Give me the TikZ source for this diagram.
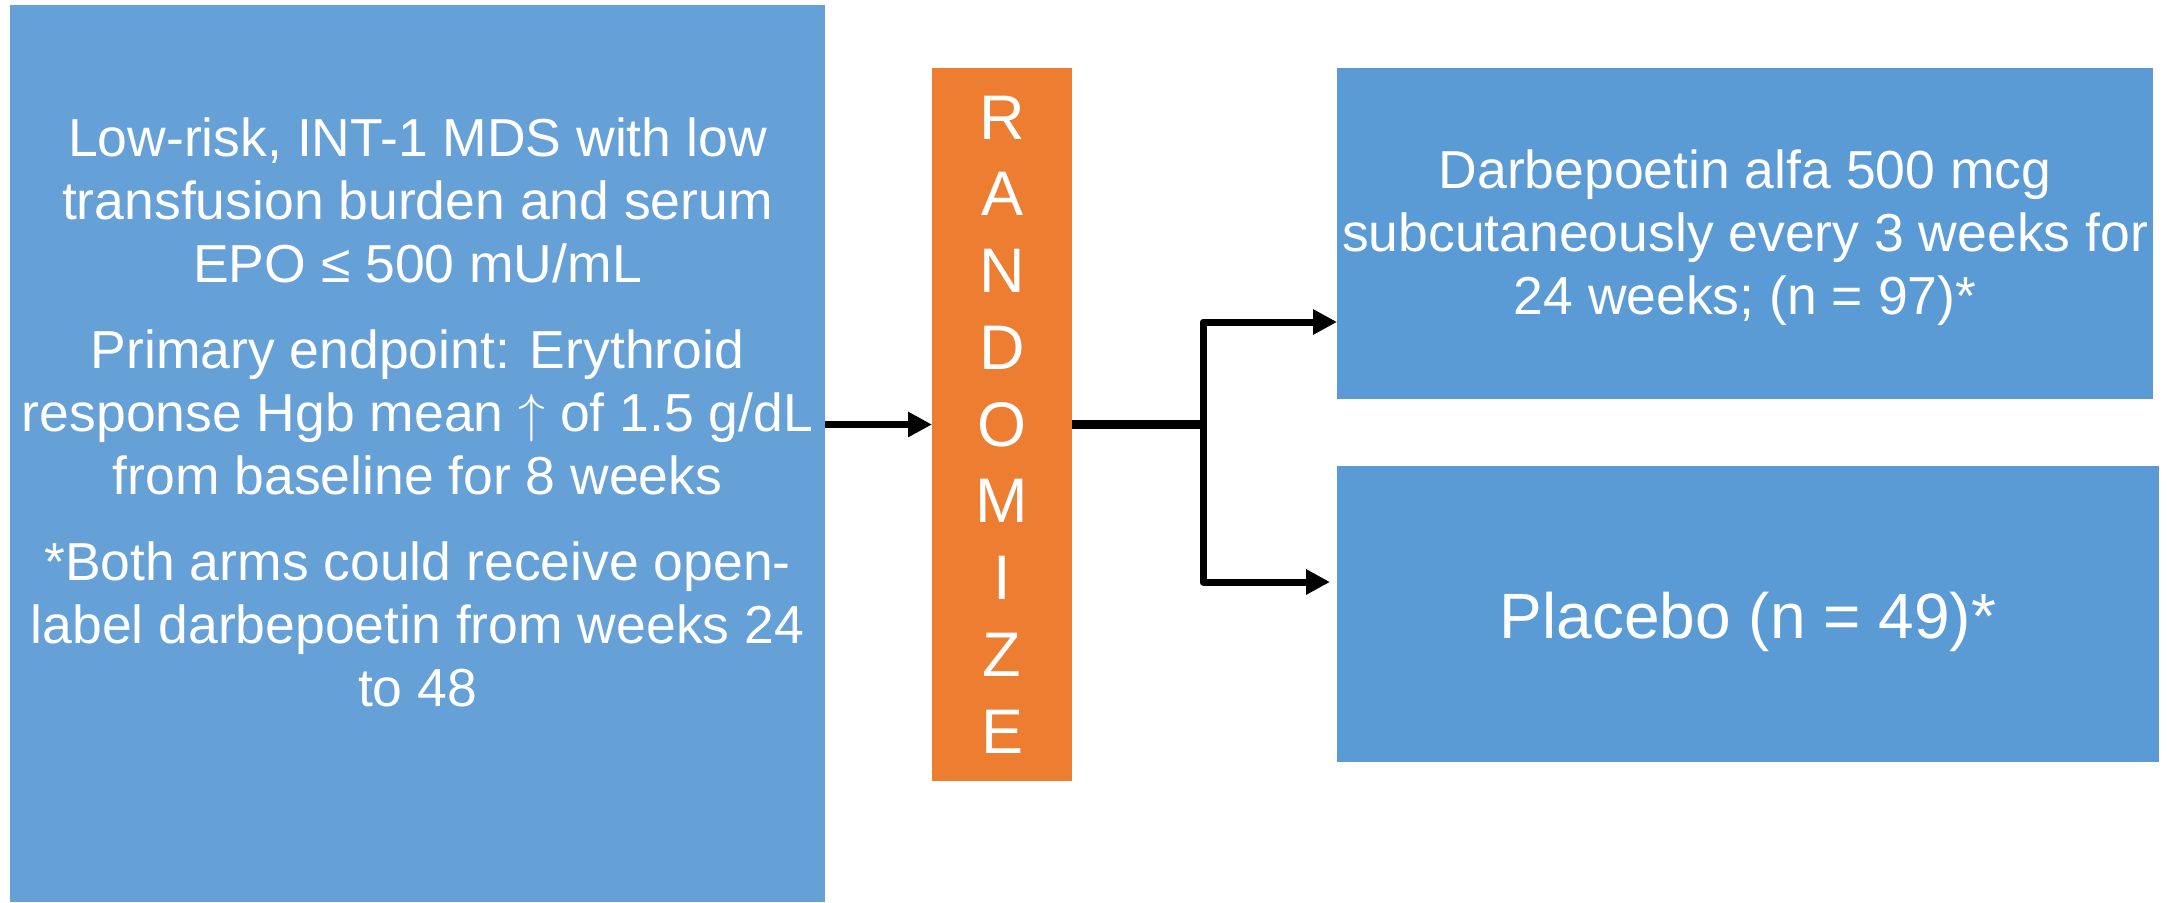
\documentclass[tikz,border=0pt]{standalone}
\usepackage{graphicx}
\usepackage{fontspec}
\setmainfont{Liberation Sans}
\usetikzlibrary{arrows.meta}
\definecolor{leftblue}{RGB}{101,160,214}
\definecolor{boxblue}{RGB}{91,155,213}
\definecolor{rorange}{RGB}{237,125,49}
\newcommand{\bigup}{\scalebox{5.35}{\fontsize{10pt}{12pt}\selectfont$\uparrow$}}
\begin{document}
\begin{tikzpicture}[x=1pt,y=-1pt,
  box/.style={rectangle, inner sep=0pt, outer sep=0pt, draw=none},
  txt/.style={inner sep=0pt, outer sep=0pt, text=white, align=center},
  bodyfont/.style={font=\fontsize{53.5pt}{63pt}\selectfont},
  conn/.style={line width=7pt, line join=round, -{Triangle[length=24pt,width=24pt]}},
  trunk/.style={line width=9pt, line join=round}]
\useasboundingbox (0,0) rectangle (2167,902);
% boxes
\node[box, fill=leftblue, minimum width=815pt, minimum height=897pt, anchor=north west] (left) at (10,5) {};
\node[txt, bodyfont] (lefttext) at (417.5,412.5) {Low-risk, INT-1 MDS with low\\transfusion burden and serum\\EPO ≤ 500 mU/mL\\[23pt]Primary endpoint: Erythroid\\response Hgb mean \bigup{} of 1.5 g/dL\\from baseline for 8 weeks\\[23pt]*Both arms could receive open-\\label darbepoetin from weeks 24\\to 48};
\node[box, fill=rorange, txt, minimum width=140pt, minimum height=713pt, font=\fontsize{63pt}{76.75pt}\selectfont] (rand) at (1002,424.5) {R\\A\\N\\D\\O\\M\\I\\Z\\E};
\node[box, fill=boxblue, txt, bodyfont, minimum width=816pt, minimum height=331pt] (top) at (1745,233.5) {\rule{0pt}{48pt}Darbepoetin alfa 500 mcg\\subcutaneously every 3 weeks for\\24 weeks; (n = 97)*};
\node[box, fill=boxblue, txt, font=\fontsize{64pt}{76pt}\selectfont, minimum width=822pt, minimum height=296pt] (bot) at (1748,614) {\rule{0pt}{61.5pt}Placebo (n = 49)*};
% connectors
\coordinate (split) at (1203,424.5);
\draw[conn] (left.east |- rand.west) -- (rand.west);
\draw[trunk] (rand.east) -- (split);
\draw[conn] (split) |- ([yshift=-88.5pt]top.west);
\draw[conn, shorten >=7pt] (split) |- ([yshift=32pt]bot.west);
\end{tikzpicture}
\end{document}
